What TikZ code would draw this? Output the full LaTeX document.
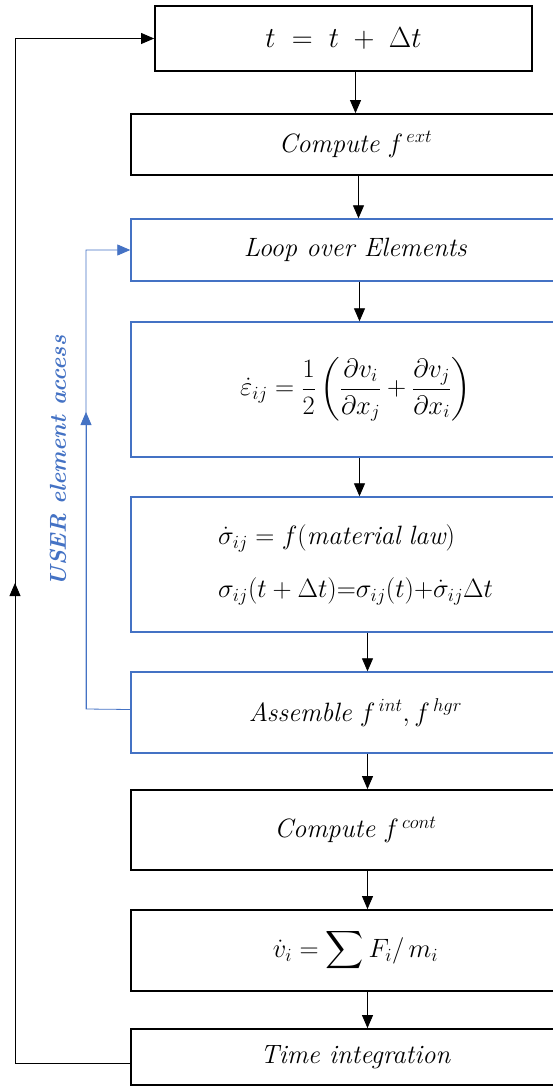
\documentclass[tikz,border=0pt]{standalone}
\usepackage{fix-cm}
\usepackage{amsmath, amssymb}
\usepackage{fontspec}
\usepackage{xcolor}
\usepackage{tikz}
\usetikzlibrary{arrows.meta, calc}

\definecolor{userblue}{HTML}{4472C4}
\newcommand{\boxfont}{\fontsize{26.5}{31}\selectfont}

\begin{document}
\begin{tikzpicture}[x=1pt, y=-1pt, >={Triangle[length=13pt,width=11pt]},
    stepbox/.style={draw, line width=1.8pt, rectangle, inner sep=0pt,
        minimum width=449pt, font=\boxfont},
    userbox/.style={stepbox, draw=userblue, line width=1.4pt},
    flow/.style={->, line width=0.8pt}]
    % Rahmen
    \useasboundingbox (0,0) rectangle (553,1086);
    \clip (0,0) rectangle (553,1086);

    % Zeitschritt
    \node[stepbox, minimum width=377pt, minimum height=65pt,
        font=\fontsize{29}{34}\selectfont] (tstep) at (343.5,38.5)
        {$t \;=\; t \;+\; \Delta t$};
    \node[stepbox, minimum height=61pt] (fext) at (355.5,144.5)
        {\textit{Compute} $f^{\,ext}$};

    % Schleife ueber die Elemente
    \node[userbox, minimum height=62pt] (loop) at (355.5,250)
        {\textit{Loop over Elements}};
    \node[userbox, minimum height=135pt] (strain) at (355.5,389.5)
        {$\dot{\varepsilon}_{ij} = \dfrac{1}{2}\left(\dfrac{\partial v_i}{\partial x_j}
        + \dfrac{\partial v_j}{\partial x_i}\right)$};
    \node[userbox, minimum height=135pt, align=left] (stress) at (355.5,564.5)
        {$\dot{\sigma}_{ij} = f(\mathit{material\ law})$\\[22pt]
         $\sigma_{ij}(t + \Delta t){=}\sigma_{ij}(t){+}\dot{\sigma}_{ij}\Delta t$};
    \node[userbox, minimum height=81pt] (asm) at (355.5,712.5)
        {\textit{Assemble} $f^{\,int}, f^{\,hgr}$};

    % Kontakt, Beschleunigung, Integration
    \node[stepbox, minimum height=80pt] (fcont) at (355.5,830)
        {\textit{Compute} $f^{\,cont}$};
    \node[stepbox, minimum height=81pt] (accel) at (355.5,950.5)
        {$\dot{v}_i = \displaystyle\sum F_i/\,m_i$};
    \node[stepbox, minimum height=56pt] (tint) at (355.5,1057)
        {\textit{Time integration}};

    % Pfeile nach unten
    \draw[flow] (tstep.south -| fext.north) -- (fext.north);
    \draw[flow] ([xshift=3pt]fext.south) -- ([xshift=3pt]loop.north);
    \draw[flow] ([xshift=4pt]loop.south) -- ([xshift=4pt]strain.north);
    \draw[flow] ([xshift=4pt]strain.south) -- ([xshift=4pt]stress.north);
    \foreach \a/\b in {stress/asm, asm/fcont, fcont/accel, accel/tint} {
        \draw[flow] ([xshift=12pt]\a.south) -- ([xshift=12pt]\b.north);
    }

    % Ruecksprung zum naechsten Zeitschritt
    \coordinate (lb) at (15,1063);
    \coordinate (lm) at (15,583);
    \coordinate (lt) at (15,38.5);
    \draw[flow] ([yshift=-6pt]tint.west) -- (lb) -- (lt) -- (tstep.west);
    \draw[flow] (lb) -- (lm);

    % USER element access
    \coordinate (ub) at (86,709);
    \coordinate (um) at (86,412);
    \coordinate (ut) at (86,250);
    \draw[flow, userblue] ([yshift=3pt]asm.west) -- (ub) -- (ut) -- (loop.west);
    \draw[flow, userblue] (ub) -- (um);
    \node[rotate=90, text=userblue, font=\fontsize{23}{28}\selectfont\bfseries\itshape]
        (user) at (58,461) {USER element access};
\end{tikzpicture}
\end{document}
